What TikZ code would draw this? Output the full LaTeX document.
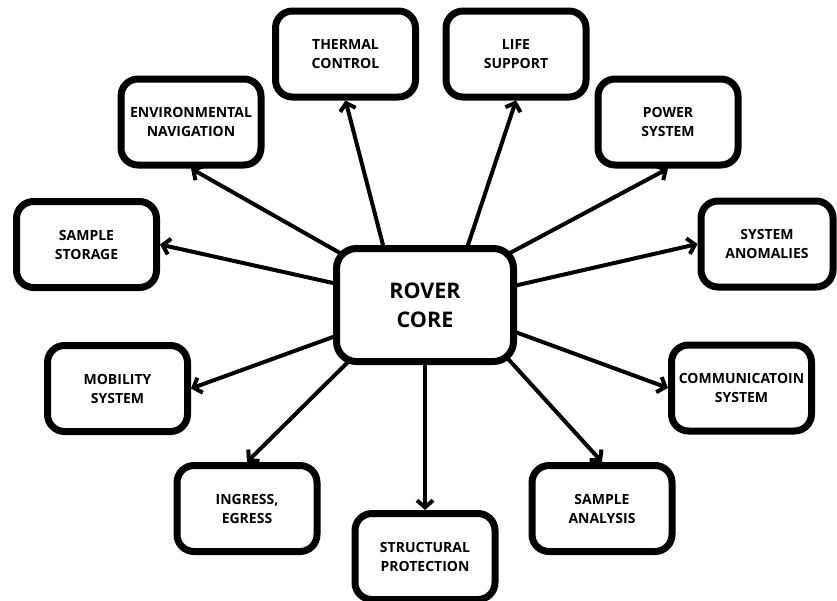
\documentclass[tikz,border=0pt]{standalone}
\usepackage{fontspec}
\setmainfont{Open Sans}
\usetikzlibrary{arrows.meta,calc,backgrounds}
\begin{document}
\begin{tikzpicture}[x=1pt,y=-1pt,
  box/.style={draw=black, line width=7pt, rounded corners=17pt, fill=white,
    align=center, inner sep=0pt, minimum width=140pt, minimum height=86pt,
    font=\fontsize{14}{19}\selectfont\bfseries},
  hub/.style={box, minimum width=177pt, minimum height=113pt, rounded corners=20pt,
    font=\fontsize{21.5}{29}\selectfont\bfseries},
  link/.style={line width=4pt, line join=round,
    -{Straight Barb[length=7pt,width=16pt]}},
]
\useasboundingbox (0,0) rectangle (837,600);

% central node
\node[hub] (core) at (425,305) {ROVER\\CORE};

% surrounding subsystems
\node[box] (thermal)    at (345.5,54)  {THERMAL\\CONTROL};
\node[box] (life)       at (516,54)    {LIFE\\SUPPORT};
\node[box] (envnav)     at (191,122)   {ENVIRONMENTAL\\NAVIGATION};
\node[box] (power)      at (668,122)   {POWER\\SYSTEM};
\node[box] (storage)    at (86.5,244.5) {SAMPLE\\STORAGE};
\node[box, minimum width=132pt] (anomalies) at (767,244) {SYSTEM\\ANOMALIES};
\node[box] (mobility)   at (117.5,388.5) {MOBILITY\\SYSTEM};
\node[box] (comm)       at (741.5,388) {COMMUNICATOIN\\SYSTEM};
\node[box] (ingress)    at (247,508.5) {INGRESS,\\EGRESS};
\node[box] (structural) at (425,556.5) {STRUCTURAL\\PROTECTION};
\node[box] (analysis)   at (602,508.5) {SAMPLE\\ANALYSIS};

% connector start points on the rim of the central node
\coordinate (sThermal)    at ($(core.center)+(-42,-60)$);
\coordinate (sLife)       at ($(core.center)+(43,-60)$);
\coordinate (sEnvnav)     at ($(core.center)+(-85,-52)$);
\coordinate (sPower)      at ($(core.center)+(85,-52)$);
\coordinate (sStorage)    at ($(core.center)+(-92,-22)$);
\coordinate (sAnomalies)  at ($(core.center)+(93,-20)$);
\coordinate (sMobility)   at ($(core.center)+(-92,32)$);
\coordinate (sComm)       at ($(core.center)+(93,28)$);
\coordinate (sIngress)    at ($(core.center)+(-78,58)$);
\coordinate (sStructural) at ($(core.center)+(0,60)$);
\coordinate (sAnalysis)   at ($(core.center)+(85,56)$);

\begin{scope}[on background layer]
  \fill[white] (0,0) rectangle (837,600);
  \draw[link] ($(sThermal)!-8pt!(thermal.south)$)       -- (thermal.south);
  \draw[link] ($(sLife)!-8pt!(life.south)$)             -- (life.south);
  \draw[link] ($(sEnvnav)!-8pt!(envnav.south)$)         -- (envnav.south);
  \draw[link] ($(sPower)!-8pt!(power.south)$)           -- (power.south);
  \draw[link] ($(sStorage)!-8pt!(storage.east)$)        -- (storage.east);
  \draw[link] ($(sAnomalies)!-8pt!(anomalies.west)$)    -- (anomalies.west);
  \draw[link] ($(sMobility)!-8pt!(mobility.east)$)      -- (mobility.east);
  \draw[link] ($(sComm)!-8pt!(comm.west)$)              -- (comm.west);
  \draw[link] ($(sIngress)!-8pt!(ingress.north)$)       -- (ingress.north);
  \draw[link] ($(sStructural)!-8pt!(structural.north)$) -- (structural.north);
  \draw[link] ($(sAnalysis)!-8pt!(analysis.north)$)     -- (analysis.north);
\end{scope}
\end{tikzpicture}
\end{document}
